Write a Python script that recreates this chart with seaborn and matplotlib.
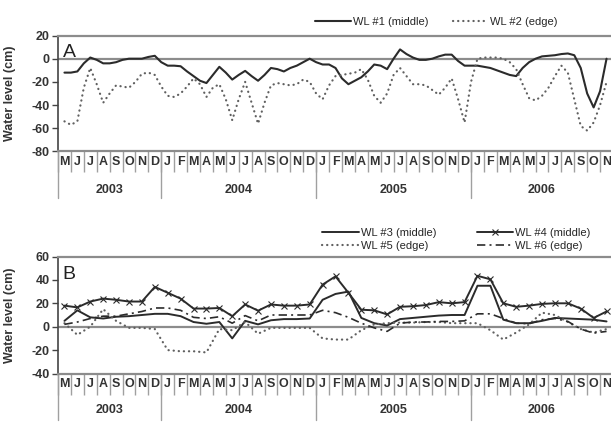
import numpy as np
import pandas as pd
import seaborn as sns
import matplotlib
matplotlib.use("Agg")
import matplotlib.pyplot as plt

# time axis: May 2003 .. Nov 2006
month_letters = list("MJJASOND") + list("JFMAMJJASOND") * 2 + list("JFMAMJJASON")
years = ["2003", "2004", "2005", "2006"]
year_starts = [0, 8, 20, 32]
year_ends = [8, 20, 32, 43]

# panel A, read every half month (months since 1 May 2003)
t_half = np.arange(1, 86) * 0.5
wl1 = [-12, -12, -11, -4, 1, -1, -4, -4, -3, -1, 0, 0, 0, 1.5, 2.5, -3, -6, -6, -6.5, -11,
       -15, -19, -21, -14, -7, -12, -18, -14, -10.5, -15, -19, -14, -8, -9, -11, -8, -6, -3, 0, -3,
       -5, -5, -8, -17, -22, -19, -16, -11, -5, -6, -9, 0, 8, 4, 1, -1, -1, 0, 2, 3.5,
       3.5, -2, -6, -6, -6, -7, -8, -10, -12, -14, -15, -8, -3, 0, 2, 2.5, 3, 4, 4.5, 3,
       -8, -30, -42, -28, 0]
wl2 = [-54, -57, -54, -25, -8, -22, -38, -30, -23, -24, -25, -20, -13, -12, -14, -24, -32, -33, -30, -24,
       -17, -22, -33, -25, -22, -35, -53, -35, -20, -38, -56, -38, -23, -21, -22, -23, -22, -18, -20, -30,
       -35, -23, -15, -14, -13, -12, -9, -18, -32, -38, -30, -14, -8, -15, -22, -22, -23, -27, -31, -25,
       -17, -35, -55, -20, 0, 1, 1, 1, 0, -3, -9, -22, -34, -36, -32, -25, -15, -6, -12, -35,
       -58, -62, -55, -40, -20]

# panel B, monthly readings (mid month)
t_month = np.arange(43) + 0.5
wl3 = [5, 14, 8, 7, 8.5, 9, 10, 11, 11, 9, 4, 2.5, 4, -10, 5, 2, 5.5, 6.5, 6.5, 7,
       23, 28, 30, 7.5, 3, 1, 6.5, 7.5, 8.5, 9.5, 10, 10, 35, 35, 6, 3, 3, 5, 7.5, 7,
       6.5, 6, 4.5]
wl4 = [18, 16.5, 21.5, 24, 23, 21.5, 21.5, 34, 29, 24, 15.5, 15.5, 16, 9, 19, 13.7, 19, 18, 18, 19,
       36, 43, 29, 14.5, 14, 10.5, 17, 17.5, 18.5, 21, 20, 21, 43.5, 40.5, 20, 17, 18, 19.5, 20, 20,
       15.5, 7.5, 13]
wl5 = [3, -7, 0, 15, 5, -1, -1, -2, -20, -21, -21, -22, -2, -3, 4, -6, -1, -1, -1, -1,
       -10, -11, -11, -3, 2, 3, 3.5, 3.5, 4, 4, 3, 3, 3, -3, -11, -5, 2, 12, 10, 4,
       -2, -5, -2]
wl6 = [2, 4, 7, 9, 9, 11, 13, 16, 16, 14, 8, 7, 8.5, 3, 9.5, 5, 10, 10, 10, 10,
       14, 12, 8, 3, -1, -4, 3, 4, 4, 4.5, 4.5, 5, 11, 11, 7, 3, 2.5, 6, 7, 4.5,
       -2, -5.5, -4]

sns.set_style("white")
plt.rcParams["font.family"] = ["Liberation Sans", "DejaVu Sans"]

fig = plt.figure(figsize=(6.11, 4.23), dpi=100)
ax_a = fig.add_axes([58 / 611, 1 - 151.5 / 423, 555 / 611, 116 / 423])
ax_b = fig.add_axes([58 / 611, 1 - 373.5 / 423, 555 / 611, 117 / 423])

dark = "#2b2b2b"
grey = "#606060"
dot = (0, (0.1, 2.2))
dashdot = (0, (5, 2.5, 1.2, 2.5))

sns.lineplot(x=t_half, y=wl1, ax=ax_a, color=dark, lw=1.5, label="WL #1 (middle)")
sns.lineplot(x=t_half, y=wl2, ax=ax_a, color=grey, lw=1.6, linestyle=dot,
             dash_capstyle="round", label="WL #2 (edge)")

sns.lineplot(x=t_month, y=wl3, ax=ax_b, color=dark, lw=1.4, label="WL #3 (middle)")
sns.lineplot(x=t_month, y=wl4, ax=ax_b, color=dark, lw=1.4, marker="x", markersize=4.5,
             markeredgewidth=0.8, markeredgecolor=dark, label="WL #4 (middle)")
sns.lineplot(x=t_month, y=wl5, ax=ax_b, color=grey, lw=1.6, linestyle=dot,
             dash_capstyle="round", label="WL #5 (edge)")
sns.lineplot(x=t_month, y=wl6, ax=ax_b, color=dark, lw=1.2, linestyle=dashdot,
             label="WL #6 (edge)")


def style_axes(ax, ylim, yticks, tag, year_y, sep_len):
    ax.set_xlim(0, 43)
    ax.set_ylim(*ylim)
    ax.set_yticks(yticks)
    ax.set_yticklabels([str(v) for v in yticks], fontsize=9, fontweight="bold", color="#333333")
    ax.axhline(0, color="#8c8c8c", lw=1.6, zorder=1)
    for side in ["top", "bottom"]:
        ax.spines[side].set_color("#8c8c8c")
        ax.spines[side].set_linewidth(1.6)
    ax.spines["left"].set_color("#444444")
    ax.spines["left"].set_linewidth(1.2)
    ax.spines["right"].set_visible(False)
    ax.tick_params(axis="y", length=4, width=1, color="#444444", left=True, pad=2)

    ax.set_xticks(np.arange(0, 44))
    ax.set_xticklabels([])
    ax.set_xticks(t_month, minor=True)
    ax.set_xticklabels(month_letters, minor=True, fontsize=9, fontweight="bold", color="#333333")
    ax.tick_params(axis="x", which="major", length=15, width=1, color="#a0a0a0",
                   direction="out", bottom=True)
    ax.tick_params(axis="x", which="minor", length=0, pad=3, bottom=True)

    trans = ax.get_xaxis_transform()
    for s in year_starts:
        ax.axvline(s, ymin=-sep_len, ymax=0, color="#a0a0a0", lw=1, clip_on=False)
    for s, e, yr in zip(year_starts, year_ends, years):
        ax.text((s + e) / 2, year_y, yr, transform=trans, ha="center", va="center",
                fontsize=9, fontweight="bold", color="#333333")

    ax.text(0.35, ylim[1] - (ylim[1] - ylim[0]) * 0.15, tag, fontsize=14, ha="left", va="center",
            color="#222222")
    ax.set_xlabel("")
    ax.set_ylabel("Water level (cm)", fontsize=9, fontweight="bold", color="#333333")
    ax.yaxis.set_label_coords(-0.075, 0.5)


style_axes(ax_a, (-80, 20), [20, 0, -20, -40, -60, -80], "A", -0.33, 0.40)
style_axes(ax_b, (-40, 60), [60, 40, 20, 0, -20, -40], "B", -0.316, 0.40)

h, l = ax_a.get_legend_handles_labels()
ax_a.legend(h, l, ncol=2, loc="center left", bbox_to_anchor=(0.463, 1.119), frameon=False,
            fontsize=8, handlelength=3.2, handletextpad=0.2, columnspacing=2.2,
            borderaxespad=0, borderpad=0)

h, l = ax_b.get_legend_handles_labels()
order = [0, 2, 1, 3]
ax_b.legend([h[i] for i in order], [l[i] for i in order], ncol=2, loc="center left",
            bbox_to_anchor=(0.476, 1.145), frameon=False, fontsize=8, handlelength=3.3,
            handletextpad=0.2, columnspacing=3.6, labelspacing=0.3,
            borderaxespad=0, borderpad=0)

fig.savefig("out.png", dpi=100)
